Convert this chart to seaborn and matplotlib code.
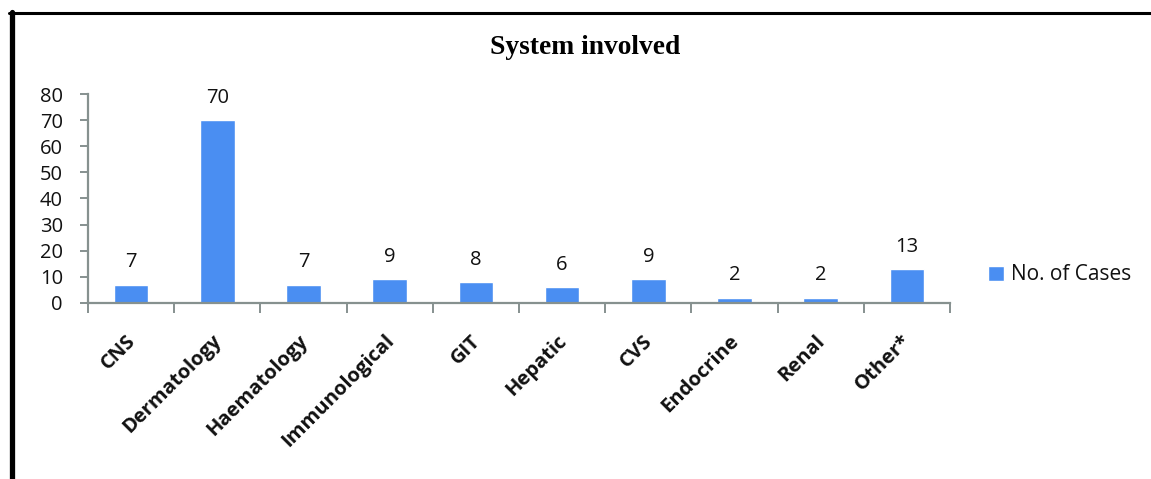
import matplotlib
matplotlib.use("Agg")
import matplotlib.pyplot as plt
from matplotlib.lines import Line2D
import matplotlib.transforms as mtransforms
import seaborn as sns
import pandas as pd

categories = ["CNS", "Dermatology", "Haematology", "Immunological", "GIT",
              "Hepatic", "CVS", "Endocrine", "Renal", "Other*"]
cases = [7, 70, 7, 9, 8, 6, 9, 2, 2, 13]
series_name = "No. of Cases"
title = "System involved"
y_ticks = [0, 10, 20, 30, 40, 50, 60, 70, 80]

sns.set_theme(style="white")
plt.rcParams["font.family"] = ["Open Sans", "DejaVu Sans"]

W, H = 1151, 479
fig = plt.figure(figsize=(W / 100, H / 100), dpi=100)
ax = fig.add_axes([88 / W, 1 - 303 / H, (950 - 88) / W, (303 - 94) / H])

df = pd.DataFrame({"System": categories, "Cases": cases})
bar_color = "#4a8ef2"
axis_color = "#86918f"
text_color = "#111111"

sns.barplot(data=df, x="System", y="Cases", color=bar_color, width=0.4,
            saturation=1, ax=ax, label=series_name)
handles, labels = ax.get_legend_handles_labels()
if ax.get_legend() is not None:
    ax.get_legend().remove()

ax.set_xlim(-0.5, len(categories) - 0.5)
ax.set_ylim(0, 80)
ax.set_yticks(y_ticks)
ax.set_xlabel("")
ax.set_ylabel("")

for s in ["top", "right"]:
    ax.spines[s].set_visible(False)
for s in ["left", "bottom"]:
    ax.spines[s].set_color(axis_color)
    ax.spines[s].set_linewidth(1.6)

# category boundary ticks on the x axis
ax.set_xticks([i - 0.5 for i in range(len(categories) + 1)], minor=True)
ax.tick_params(axis="x", which="minor", length=7, width=1.4, color=axis_color,
               direction="out", bottom=True)
ax.tick_params(axis="x", which="major", length=0, pad=20)
ax.tick_params(axis="y", length=6, width=1.4, color=axis_color,
               direction="out", left=True, pad=12, labelsize=14.5,
               labelcolor=text_color)

ax.set_xticks(range(len(categories)))
ax.set_xticklabels(categories, rotation=45, ha="right", rotation_mode="anchor",
                   fontsize=14.5, fontweight="bold", color=text_color)
shift = mtransforms.ScaledTranslation(-4 / 72, 0, fig.dpi_scale_trans)
for lbl in ax.get_xticklabels():
    lbl.set_transform(lbl.get_transform() + shift)

for container in ax.containers:
    ax.bar_label(container, labels=[str(v) for v in cases], padding=9,
                 fontsize=14.5, color=text_color)

fig.text(585 / W, 1 - 47 / H, title, ha="center", va="center", color="black",
         fontsize=19.8, fontweight="bold", family="Liberation Serif")

fig.legend(handles, labels, loc="center left",
           bbox_to_anchor=(978 / W, 1 - 275 / H), frameon=False,
           fontsize=15, handlelength=0.75, handleheight=0.75,
           handletextpad=0.35, borderpad=0, labelcolor=text_color)

# outer frame lines
fig.add_artist(Line2D([11.5 / W, 11.5 / W], [0, 1 - 12 / H],
                      transform=fig.transFigure, color="black", linewidth=3.8))
fig.add_artist(Line2D([9 / W, 1], [1 - 13 / H, 1 - 13 / H],
                      transform=fig.transFigure, color="black", linewidth=2.2))

fig.savefig("out.png", dpi=100)
